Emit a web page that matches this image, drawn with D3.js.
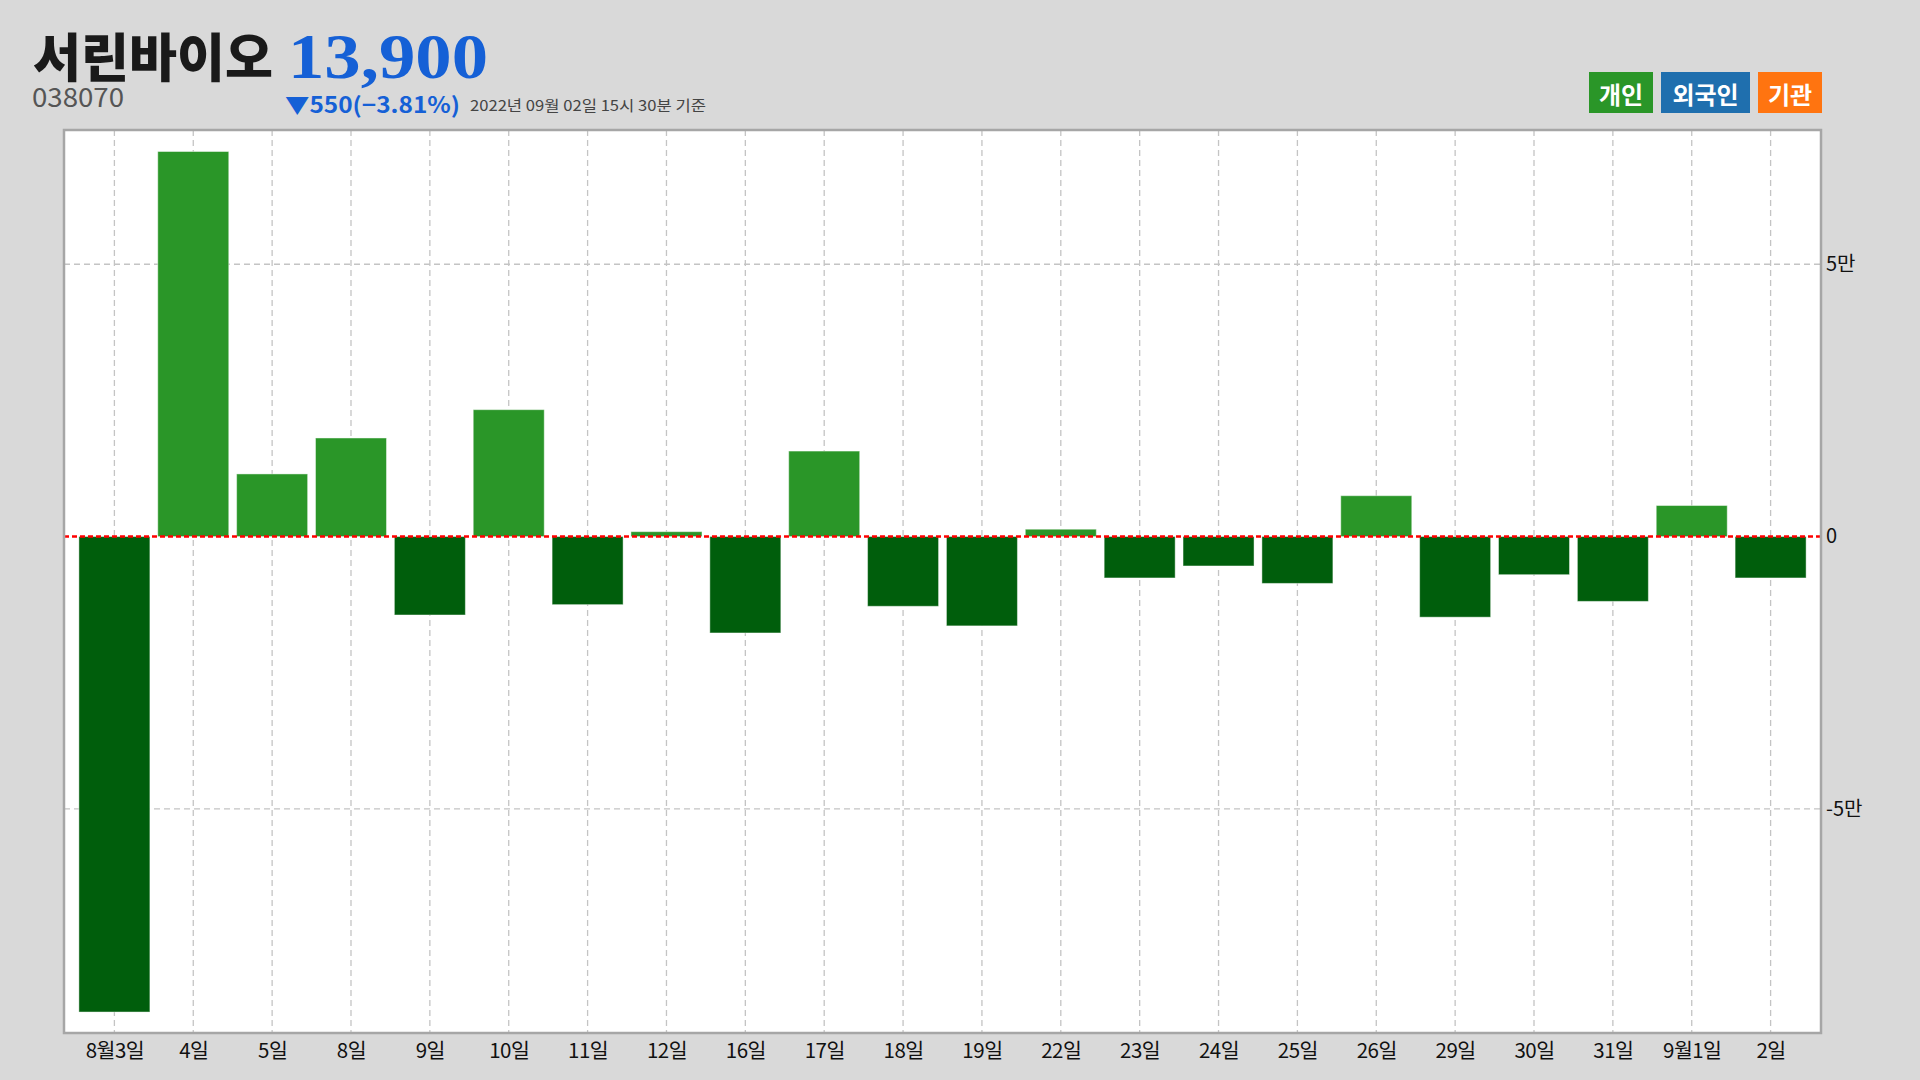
<!DOCTYPE html>
<html><head><meta charset="utf-8">
<script src="https://cdn.jsdelivr.net/npm/d3@7"></script>
<style>
html,body{margin:0;padding:0;background:#d9d9d9;}
svg{display:block;}
</style></head>
<body>
<svg id="chart" width="1920" height="1080"></svg>
<script>
const categories = ["8월3일","4일","5일","8일","9일","10일","11일","12일","16일","17일","18일","19일","22일","23일","24일","25일","26일","29일","30일","31일","9월1일","2일"];
const values = [-87300, 70700, 11500, 18100, -14400, 23300, -12500, 900, -17700, 15700, -12800, -16400, 1350, -7600, -5400, -8600, 7500, -14800, -7000, -11900, 5700, -7600];
const yTickValues = [50000, 0, -50000];
const yTickLabels = ["5만", "0", "-5만"];
const legendLabels = ["개인", "외국인", "기관"];
const legendColors = ["#2a9628", "#1f6fae", "#ff7410"];
const stockName = "서린바이오";
const stockCode = "038070";
const price = "13,900";
const change = "▼550(−3.81%)";
const asOf = "2022년 09월 02일 15시 30분 기준";

const KR = "'Noto Sans CJK KR', 'Noto Sans', sans-serif";
const svg = d3.select("#chart");
svg.append("rect").attr("width",1920).attr("height",1080).attr("fill","#d9d9d9");

const L = 64, R = 1821, T = 130, B = 1033;
const x = d3.scalePoint().domain(categories).range([L, R]).padding(0.639);
const y = d3.scaleLinear().domain([-91150, 74650]).range([B, T]);
const barW = 71;

// plot background
svg.append("rect").attr("x",L).attr("y",T).attr("width",R-L).attr("height",B-T).attr("fill","#ffffff");

// grid
const grid = svg.append("g");
grid.selectAll("line.v").data(categories).join("line")
  .attr("x1", d=>x(d)).attr("x2", d=>x(d)).attr("y1", T).attr("y2", B)
  .attr("stroke","#c4c4c4").attr("stroke-width",1.3).attr("stroke-dasharray","6,4");
grid.selectAll("line.h").data(yTickValues.filter(v=>v!==0)).join("line")
  .attr("x1", L).attr("x2", R).attr("y1", d=>y(d)).attr("y2", d=>y(d))
  .attr("stroke","#c4c4c4").attr("stroke-width",1.3).attr("stroke-dasharray","6,4");

// bars
svg.append("g").selectAll("rect").data(values).join("rect")
  .attr("x", (d,i)=>x(categories[i]) - barW/2)
  .attr("width", barW)
  .attr("y", d=>y(Math.max(0,d)))
  .attr("height", d=>Math.abs(y(d)-y(0)))
  .attr("fill", d=> d>=0 ? "#2a9628" : "#005e0c")
  .attr("stroke", "rgba(255,255,255,0.45)").attr("stroke-width",1);

// zero line
svg.append("line").attr("x1",L).attr("x2",R).attr("y1",y(0)).attr("y2",y(0))
  .attr("stroke","#ff0000").attr("stroke-width",2.6).attr("stroke-dasharray","5,3");

// frame
svg.append("rect").attr("x",L).attr("y",T).attr("width",R-L).attr("height",B-T)
  .attr("fill","none").attr("stroke","#a6a6a6").attr("stroke-width",2.5);

// right axis
const yAxis = d3.axisRight(y).tickValues(yTickValues).tickSize(0).tickPadding(5)
  .tickFormat((d,i)=>yTickLabels[i]);
const ya = svg.append("g").attr("transform",`translate(${R},0)`).call(yAxis);
ya.select(".domain").remove();
ya.selectAll("text").attr("font-family",KR).attr("font-size",20).attr("fill","#111");

// bottom axis
const xAxis = d3.axisBottom(x).tickSize(0).tickPadding(6);
const xa = svg.append("g").attr("transform",`translate(0,${B})`).call(xAxis);
xa.select(".domain").remove();
xa.selectAll("text").attr("font-family",KR).attr("font-size",20.5).attr("fill","#111")
  .attr("dy","0.95em").attr("letter-spacing","-0.5px");

// header
svg.append("text").attr("x",33).attr("y",77).text(stockName)
  .attr("font-family",KR).attr("font-weight",900).attr("font-size",52).attr("fill","#1a1a1a")
  .attr("textLength",240).attr("lengthAdjust","spacingAndGlyphs");
svg.append("text").attr("x",288).attr("y",78).text(price)
  .attr("font-family","'Liberation Serif', serif").attr("font-weight",700).attr("font-size",63).attr("fill","#1560d6")
  .attr("textLength",200).attr("lengthAdjust","spacingAndGlyphs");
svg.append("text").attr("x",32).attr("y",107).text(stockCode)
  .attr("font-family",KR).attr("font-size",26).attr("fill","#555555")
  .attr("textLength",92).attr("lengthAdjust","spacingAndGlyphs");
svg.append("text").attr("x",285).attr("y",113).text(change)
  .attr("font-family",KR).attr("font-weight",700).attr("font-size",22).attr("fill","#1560d6")
  .attr("textLength",175).attr("lengthAdjust","spacingAndGlyphs");
svg.append("text").attr("x",470).attr("y",111).text(asOf)
  .attr("font-family",KR).attr("font-size",15).attr("fill","#444444")
  .attr("textLength",236).attr("lengthAdjust","spacingAndGlyphs");

// legend
const legendBoxes = [[1589,64],[1661,89],[1758,64]];
const lg = svg.append("g");
legendLabels.forEach((lab,i)=>{
  const [lx,lw] = legendBoxes[i];
  lg.append("rect").attr("x",lx).attr("y",72).attr("width",lw).attr("height",41).attr("fill",legendColors[i]);
  lg.append("text").attr("x",lx+lw/2).attr("y",93).attr("text-anchor","middle").attr("dominant-baseline","central")
    .text(lab).attr("font-family",KR).attr("font-weight",700).attr("font-size",24).attr("fill","#ffffff");
});
</script>
</body></html>
